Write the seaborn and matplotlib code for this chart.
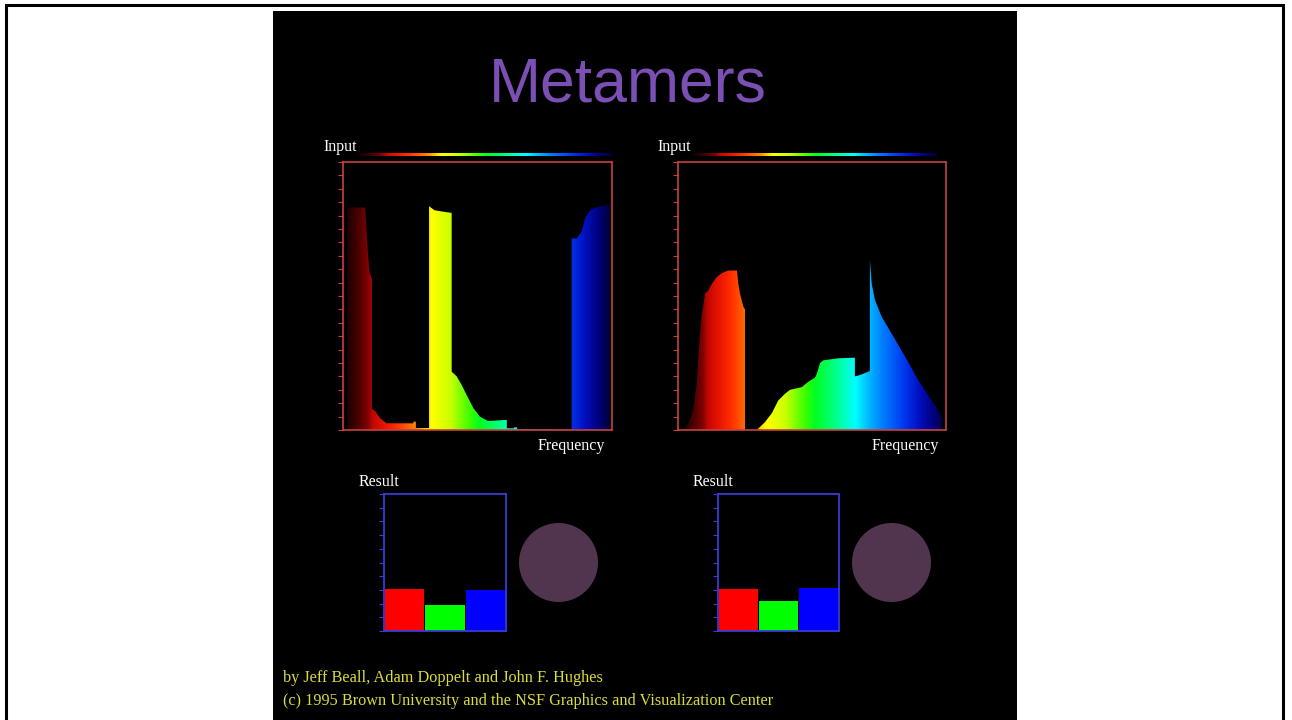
import numpy as np
import matplotlib
matplotlib.use("Agg")
import matplotlib.pyplot as plt
import seaborn as sns
from matplotlib.colors import LinearSegmentedColormap
from matplotlib.patches import Polygon, Rectangle, Circle

W, H = 1292, 720

# Input spectra: frequency (0 = red end, 100 = violet end) vs. intensity
freq_a = [1.5, 1.5, 8.2, 9.0, 9.8, 10.7, 10.7, 12.0, 13.8, 16.2,
          26.1, 26.1, 27.1, 27.1, 31.6, 32.0, 32.0, 34.0, 37.0, 40.4,
          40.4, 42.3, 44.1, 46.0, 48.5, 50.9, 53.9, 60.2, 60.9, 60.9,
          63.6, 63.6, 64.7, 64.7, 85.0, 85.0, 86.9, 88.7, 90.0, 91.8,
          93.7, 98.6, 99.3, 99.3]
power_a = [0, 16.6, 16.6, 14.0, 11.8, 11.3, 1.6, 1.4, 0.87, 0.5,
           0.5, 0.62, 0.62, 0.15, 0.15, 0.15, 16.7, 16.4, 16.3, 16.2,
           4.35, 4.0, 3.36, 2.6, 1.62, 1.0, 0.67, 0.75, 0.75, 0.13,
           0.13, 0.2, 0.2, 0.05, 0.05, 14.3, 14.3, 14.8, 15.8, 16.4,
           16.6, 16.8, 16.8, 0]

freq_b = [1.5, 3.7, 5.7, 7.0, 8.2, 8.8, 10.1, 11.3, 12.6, 14.4,
          16.3, 18.7, 22.0, 22.5, 23.1, 24.4, 25.0, 25.0, 29.4, 32.5,
          35.0, 37.4, 39.9, 41.8, 46.2, 48.6, 51.1, 51.8, 53.0, 54.2,
          59.8, 66.0, 66.0, 67.9, 71.0, 71.6, 71.6, 72.3, 73.5, 76.0,
          79.7, 84.7, 89.7, 94.7, 97.8, 98.5, 98.5]
power_b = [0.0, 0.4, 1.5, 3.5, 7.2, 8.5, 10.2, 10.4, 10.9, 11.4,
           11.7, 11.9, 11.9, 10.9, 10.2, 9.2, 9.0, 0.0, 0.0, 0.6,
           1.25, 2.2, 2.7, 3.0, 3.2, 3.6, 3.9, 4.2, 5.0, 5.2,
           5.35, 5.4, 4.0, 4.1, 4.35, 4.4, 12.7, 10.9, 9.7, 8.45,
           7.2, 5.5, 3.7, 2.2, 1.25, 0.9, 0.0]

# Resulting RGB response for each spectrum
channels = ["R", "G", "B"]
result_a = [3.05, 1.9, 3.0]
result_b = [3.05, 2.2, 3.15]
result_colors = ["#ff0000", "#00ff00", "#0000ff"]
perceived_color = "#51354f"

title = "Metamers"
credit_1 = "by Jeff Beall, Adam Doppelt and John F. Hughes"
credit_2 = "(c) 1995 Brown University and the NSF Graphics and Visualization Center"

spectrum_cmap = LinearSegmentedColormap.from_list("spectrum", [
    (0.00, "#100000"), (0.03, "#2c0000"), (0.06, "#500000"), (0.09, "#800000"),
    (0.11, "#c00800"), (0.14, "#e01000"), (0.19, "#ff2800"), (0.25, "#ff6a00"),
    (0.28, "#ff9000"), (0.31, "#ffe000"), (0.33, "#ffff00"), (0.40, "#c8ff00"),
    (0.47, "#40ff00"), (0.51, "#00ff20"), (0.58, "#00ff80"), (0.66, "#00ffff"),
    (0.71, "#00b8ff"), (0.76, "#0080ff"), (0.84, "#0038f0"), (0.90, "#0010c0"),
    (0.95, "#000080"), (1.00, "#000030"),
])

fig = plt.figure(figsize=(W / 100, H / 100), dpi=100, facecolor="white")


def px_axes(x0, y0, x1, y1):
    ax = fig.add_axes([x0 / W, 1 - y1 / H, (x1 - x0) / W, (y1 - y0) / H])
    ax.set_zorder(2)
    return ax


def ftext(x, y, s, **kw):
    fig.text(x / W, 1 - y / H, s, zorder=3, **kw)


# dark display panel and outer frame
fig.patches.append(Rectangle((273 / W, 0), (1017 - 273) / W, 1 - 11 / H,
                             transform=fig.transFigure, facecolor="black",
                             edgecolor="none", zorder=-2))
fig.patches.append(Rectangle((6 / W, -0.05), (1283 - 6) / W, 1.05 - 4.5 / H,
                             transform=fig.transFigure, fill=False,
                             edgecolor="black", lw=2.2, zorder=-1))

serif = ["Liberation Serif", "DejaVu Serif"]
ftext(628, 101.5, title, ha="center", va="baseline", fontsize=45,
      family=["Liberation Sans", "DejaVu Sans"], color="#7b4fb3")

gradient = np.linspace(0, 1, 512).reshape(1, -1)
red_frame = "#c84040"
blue_frame = "#3a3ad8"


def spectrum_panel(box, bar, freq, power, label_x, freq_right):
    x0, y0, x1, y1 = box
    ax = px_axes(x0, y0, x1, y1)
    ax.set_facecolor("black")
    ax.set_xlim(0, 100)
    ax.set_ylim(0, 20)
    verts = np.column_stack([[freq[0]] + list(freq) + [freq[-1]],
                             [0] + list(power) + [0]])
    shape = Polygon(verts, closed=True, facecolor="none", edgecolor="none")
    ax.add_patch(shape)
    im = ax.imshow(gradient, extent=(0, 100, 0, 20), aspect="auto",
                   cmap=spectrum_cmap, interpolation="bilinear", zorder=2)
    im.set_clip_path(shape)
    ax.set_xticks([])
    ax.set_yticks(np.arange(0, 21))
    ax.tick_params(axis="y", length=3.5, width=0.8, color=red_frame,
                   labelleft=False, direction="out")
    for sp in ax.spines.values():
        sp.set_color(red_frame)
        sp.set_linewidth(1.2)

    bx = px_axes(bar[0], 152.5, bar[1], 156)
    bx.imshow(gradient, aspect="auto", cmap=spectrum_cmap,
              interpolation="bilinear")
    bx.axis("off")

    ftext(label_x, 151, "Input", ha="left", va="baseline", fontsize=11.5,
          family=serif, color="white")
    ftext(freq_right, 450, "Frequency", ha="right", va="baseline",
          fontsize=11.5, family=serif, color="white")


def result_panel(box, values, circle_box, label_x):
    x0, y0, x1, y1 = box
    ax = px_axes(x0, y0, x1, y1)
    ax.set_facecolor("black")
    sns.barplot(x=channels, y=values, hue=channels, palette=result_colors,
                saturation=1, width=0.96, legend=False, linewidth=0, ax=ax)
    ax.set_xlim(-0.5, 2.5)
    ax.set_ylim(0, 10)
    ax.set_xlabel("")
    ax.set_ylabel("")
    ax.set_xticks([])
    ax.set_yticks(np.arange(0, 11))
    ax.tick_params(axis="y", length=3.5, width=0.8, color=blue_frame,
                   labelleft=False, direction="out")
    for sp in ax.spines.values():
        sp.set_color(blue_frame)
        sp.set_linewidth(1.3)
    ax.grid(False)

    cx = px_axes(*circle_box)
    cx.set_xlim(0, 1)
    cx.set_ylim(0, 1)
    cx.add_patch(Circle((0.5, 0.5), 0.5, facecolor=perceived_color,
                        edgecolor="none"))
    cx.axis("off")

    ftext(label_x, 486, "Result", ha="left", va="baseline", fontsize=11.5,
          family=serif, color="white")


spectrum_panel((343, 162, 612, 430), (358, 612), freq_a, power_a, 323, 605)
spectrum_panel((678, 162, 946, 430), (693, 937), freq_b, power_b, 657, 939)
result_panel((384, 494, 506, 631), result_a, (519, 523, 598, 602), 359)
result_panel((718, 494, 839, 631), result_b, (852, 523, 931, 602), 693)

ftext(283, 682, credit_1, ha="left", va="baseline", fontsize=11.7,
      family=serif, color="#dcdc3c")
ftext(283, 705, credit_2, ha="left", va="baseline", fontsize=11.7,
      family=serif, color="#dcdc3c")

fig.savefig("out.png", dpi=100, facecolor="white")
